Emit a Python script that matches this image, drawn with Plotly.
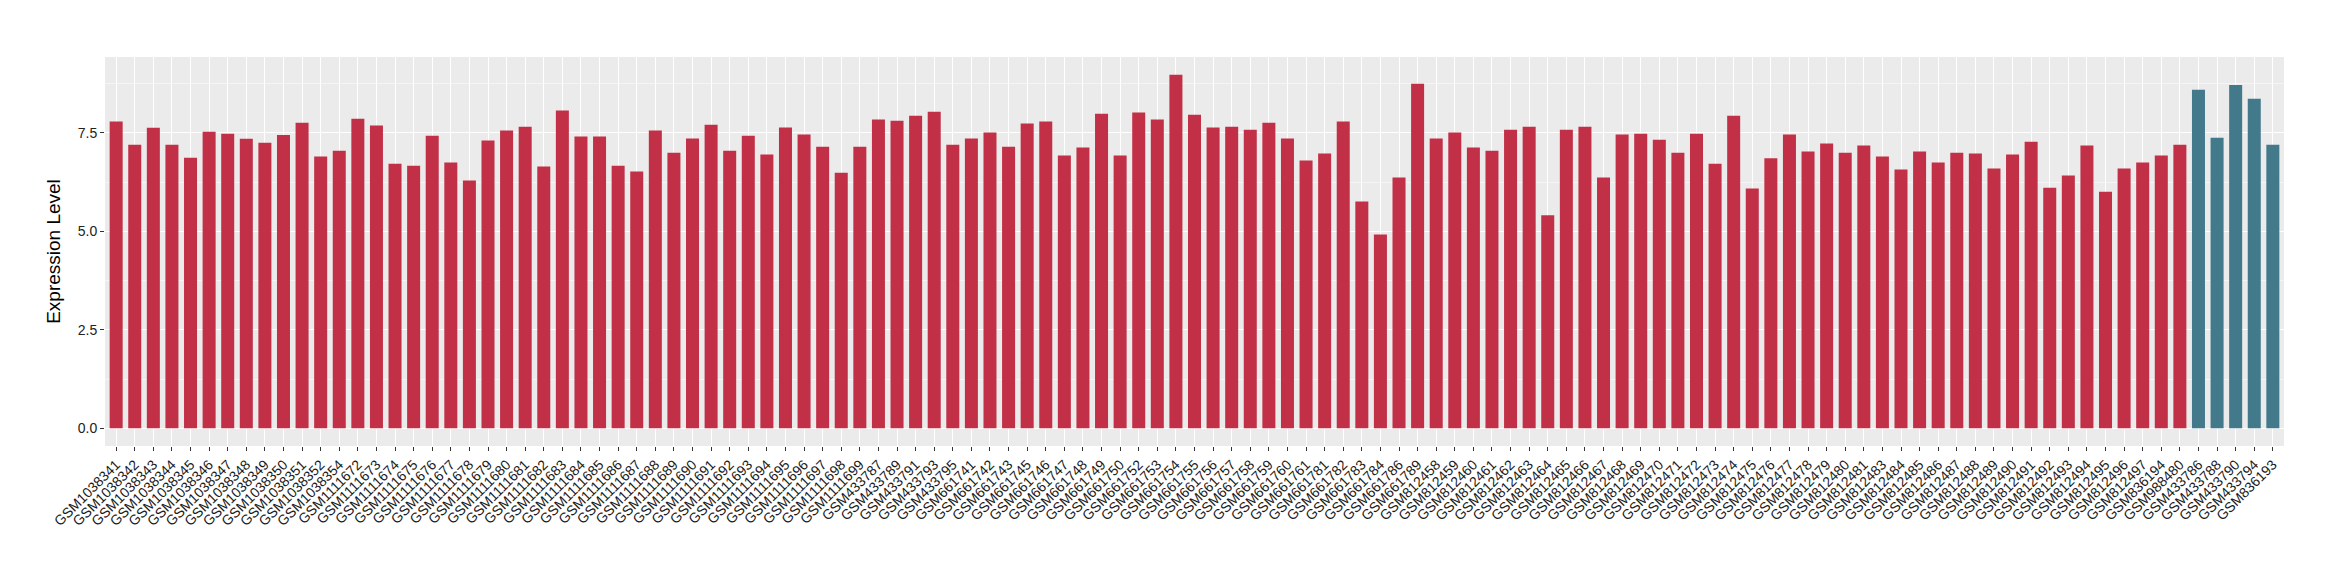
import plotly.graph_objects as go

samples = [
    "GSM1038341", "GSM1038342", "GSM1038343", "GSM1038344", "GSM1038345", "GSM1038346",
    "GSM1038347", "GSM1038348", "GSM1038349", "GSM1038350", "GSM1038351", "GSM1038352",
    "GSM1038354",
    "GSM1111672", "GSM1111673", "GSM1111674", "GSM1111675", "GSM1111676", "GSM1111677",
    "GSM1111678", "GSM1111679", "GSM1111680", "GSM1111681", "GSM1111682", "GSM1111683",
    "GSM1111684", "GSM1111685", "GSM1111686", "GSM1111687", "GSM1111688", "GSM1111689",
    "GSM1111690", "GSM1111691", "GSM1111692", "GSM1111693", "GSM1111694", "GSM1111695",
    "GSM1111696", "GSM1111697", "GSM1111698", "GSM1111699",
    "GSM433787", "GSM433789", "GSM433791", "GSM433793", "GSM433795",
    "GSM661741", "GSM661742", "GSM661743", "GSM661745", "GSM661746", "GSM661747",
    "GSM661748", "GSM661749", "GSM661750", "GSM661752", "GSM661753", "GSM661754",
    "GSM661755", "GSM661756", "GSM661757", "GSM661758", "GSM661759", "GSM661760",
    "GSM661761", "GSM661781", "GSM661782", "GSM661783", "GSM661784", "GSM661786",
    "GSM661789",
    "GSM812458", "GSM812459", "GSM812460", "GSM812461", "GSM812462", "GSM812463",
    "GSM812464", "GSM812465", "GSM812466", "GSM812467", "GSM812468", "GSM812469",
    "GSM812470", "GSM812471", "GSM812472", "GSM812473", "GSM812474", "GSM812475",
    "GSM812476", "GSM812477", "GSM812478", "GSM812479", "GSM812480", "GSM812481",
    "GSM812483", "GSM812484", "GSM812485", "GSM812486", "GSM812487", "GSM812488",
    "GSM812489", "GSM812490", "GSM812491", "GSM812492", "GSM812493", "GSM812494",
    "GSM812495", "GSM812496", "GSM812497",
    "GSM836194", "GSM988480",
    "GSM433786", "GSM433788", "GSM433790", "GSM433794", "GSM836193",
]

expression = [
    7.79, 7.20, 7.63, 7.20, 6.87, 7.53, 7.48, 7.35, 7.25, 7.45, 7.76, 6.90, 7.05,
    7.86, 7.69, 6.72, 6.67, 7.43, 6.75, 6.29, 7.31, 7.56, 7.66, 6.65, 8.07, 7.41,
    7.41, 6.67, 6.52, 7.56, 7.00, 7.36, 7.71, 7.05, 7.43, 6.95, 7.64, 7.46, 7.15,
    6.49, 7.15,
    7.84, 7.81, 7.94, 8.04, 7.20,
    7.36, 7.51, 7.15, 7.74, 7.79, 6.93, 7.13, 7.99, 6.93, 8.02, 7.84, 8.98,
    7.96, 7.64, 7.66, 7.58, 7.76, 7.36, 6.80, 6.98, 7.79, 5.76, 4.92, 6.37, 8.75,
    7.36, 7.51, 7.13, 7.05, 7.58, 7.66, 5.41, 7.58, 7.66, 6.37, 7.46, 7.48, 7.33,
    7.00, 7.48, 6.72, 7.94, 6.09, 6.86, 7.46, 7.03, 7.23, 7.00, 7.18, 6.90, 6.57,
    7.03, 6.75, 7.00, 6.98, 6.60, 6.95, 7.28, 6.11, 6.42, 7.18, 6.01, 6.60, 6.75,
    6.93, 7.20,
    8.60, 7.38, 8.72, 8.37, 7.20,
]

group = ["A"] * 112 + ["B"] * 5
group_colors = {"A": "#C23047", "B": "#42798B"}

y_ticks = [0.0, 2.5, 5.0, 7.5]
y_tick_text = ["0.0", "2.5", "5.0", "7.5"]

ymax = max(expression)

fig = go.Figure(
    go.Bar(
        x=samples,
        y=expression,
        marker=dict(color=[group_colors[g] for g in group], line=dict(width=0)),
        showlegend=False,
    )
)

fig.update_layout(
    width=2324,
    height=564,
    margin=dict(l=97, r=48, t=49, b=126, autoexpand=False),
    paper_bgcolor="white",
    plot_bgcolor="#EBEBEB",
    bargap=0.3,
    font=dict(family="Liberation Sans, Arial, sans-serif", color="#222222"),
    xaxis=dict(
        type="category",
        range=[-0.6, len(samples) - 0.4],
        tickmode="array",
        tickvals=samples,
        ticktext=samples,
        tickangle=-45,
        tickfont=dict(size=14, color="#1a1a1a"),
        ticks="outside",
        ticklen=4,
        tickcolor="#333333",
        showgrid=True,
        gridcolor="white",
        gridwidth=1.4,
        showline=False,
        zeroline=False,
        automargin=False,
    ),
    yaxis=dict(
        range=[-0.05 * ymax, 1.05 * ymax],
        tickmode="array",
        tickvals=y_ticks,
        ticktext=y_tick_text,
        tickfont=dict(size=14, color="#222222"),
        ticks="outside",
        ticklen=4,
        tickcolor="#333333",
        showgrid=True,
        gridcolor="white",
        gridwidth=1.4,
        minor=dict(
            tickmode="array",
            tickvals=[1.25, 3.75, 6.25, 8.75],
            showgrid=True,
            gridcolor="#F5F5F5",
            gridwidth=0.8,
            ticks="",
        ),
        zeroline=False,
        showline=False,
        automargin=False,
        title=dict(text="Expression Level", font=dict(size=19, color="#000000"), standoff=12),
    ),
)

fig.write_html("out.html")
